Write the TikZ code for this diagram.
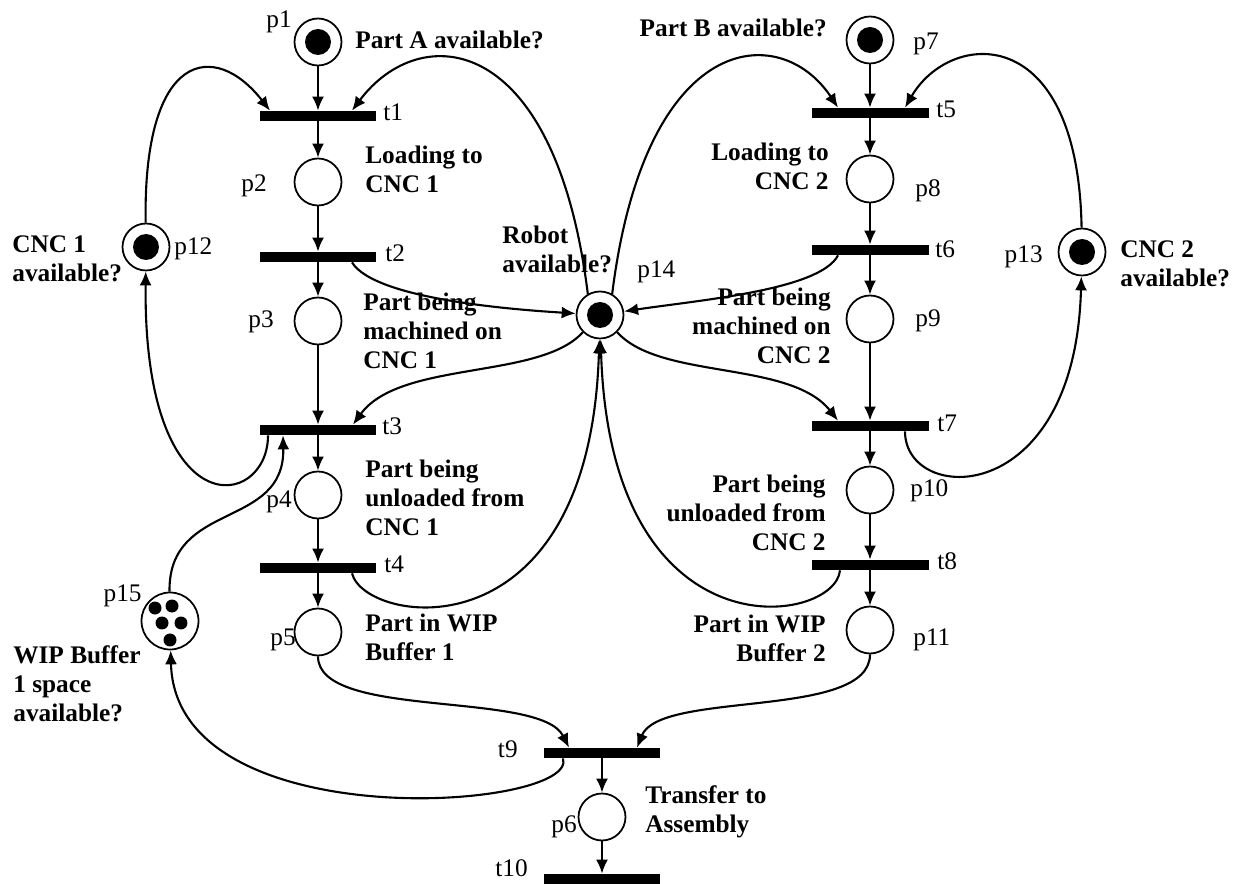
\documentclass[tikz,border=0pt]{standalone}
\usepackage{fontspec}
\setmainfont{Liberation Serif}
\usetikzlibrary{arrows.meta}

\newcommand\lblsize{\fontsize{14.4}{16.5}\selectfont}
\newcommand\txtsize{\fontsize{14.4}{16.5}\selectfont\bfseries}

\tikzset{
	place/.style={circle, draw, line width=1pt, minimum size=0.94cm, inner sep=0pt},
	marked/.style={place, path picture={\fill (path picture bounding box.center) circle (0.26cm);}},
	trans/.style={fill, minimum width=2.34cm, minimum height=0.2cm, inner sep=0pt},
	lbl/.style={font=\lblsize, inner sep=0pt},
	txt/.style={font=\txtsize, inner sep=0pt},
	flow/.style={->, line width=1.2pt},
}

\begin{document}
\begin{tikzpicture}[x=0.02cm, y=-0.02cm, >={Latex[length=2.8mm,width=2.4mm]}]
	\useasboundingbox (0,0) rectangle (1247,884);
	% places, left line (part A)
	\node[marked] (p1) at (318,42) {};
	\node[place] (p2) at (318,182) {};
	\node[place] (p3) at (318,321) {};
	\node[place] (p4) at (318,495) {};
	\node[place] (p5) at (318,632) {};
	% places, right line (part B)
	\node[marked] (p7) at (870,40) {};
	\node[place] (p8) at (870,179) {};
	\node[place] (p9) at (870,319) {};
	\node[place] (p10) at (870,490) {};
	\node[place] (p11) at (870,630) {};
	% resources
	\node[marked] (p12) at (146,247) {};
	\node[marked] (p13) at (1082,252) {};
	\node[marked] (p14) at (600,315) {};
	\node[place, minimum size=1.14cm, path picture={
		\foreach \dx/\dy in {-0.3/0.26, 0.04/0.3, -0.16/-0.04, 0.22/-0.04, 0/-0.38}
			\fill ([shift={(\dx cm,\dy cm)}]path picture bounding box.center) circle (0.13cm);
	}] (p15) at (170,621) {};
	\node[place] (p6) at (602,817) {};
	% transitions
	\node[trans] (t1) at (318,116) {};
	\node[trans] (t2) at (318,257) {};
	\node[trans] (t3) at (318,430) {};
	\node[trans] (t4) at (318,568) {};
	\node[trans] (t5) at (870,113) {};
	\node[trans] (t6) at (870,250) {};
	\node[trans] (t7) at (870,426) {};
	\node[trans] (t8) at (870,565) {};
	\node[trans] (t9) at (602,753) {};
	\node[trans] (t10) at (602,879) {};
	% names
	\node[lbl, anchor=base east] (lp1) at (292,28) {p1};
	\node[lbl, anchor=base east] (lp2) at (267,192) {p2};
	\node[lbl, anchor=base east] (lp3) at (274,328) {p3};
	\node[lbl, anchor=base east] (lp4) at (292,508) {p4};
	\node[lbl, anchor=base east] (lp5) at (296,645) {p5};
	\node[lbl, anchor=base east] (lp6) at (577,832) {p6};
	\node[lbl, anchor=base west] (lp7) at (913,50) {p7};
	\node[lbl, anchor=base west] (lp8) at (915,197) {p8};
	\node[lbl, anchor=base west] (lp9) at (915,327) {p9};
	\node[lbl, anchor=base west] (lp10) at (910,497) {p10};
	\node[lbl, anchor=base west] (lp11) at (913,645) {p11};
	\node[lbl, anchor=base west] (lp12) at (174,255) {p12};
	\node[lbl, anchor=base east] (lp13) at (1043,263) {p13};
	\node[lbl, anchor=base west] (lp14) at (637,278) {p14};
	\node[lbl, anchor=base east] (lp15) at (142,602) {p15};
	\node[lbl, anchor=base west] (lt1) at (383,121) {t1};
	\node[lbl, anchor=base west] (lt2) at (385,262) {t2};
	\node[lbl, anchor=base west] (lt3) at (382,435) {t3};
	\node[lbl, anchor=base west] (lt4) at (384,573) {t4};
	\node[lbl, anchor=base west] (lt5) at (936,118) {t5};
	\node[lbl, anchor=base west] (lt6) at (935,258) {t6};
	\node[lbl, anchor=base west] (lt7) at (937,432) {t7};
	\node[lbl, anchor=base west] (lt8) at (937,570) {t8};
	\node[lbl, anchor=base east] (lt9) at (518,757) {t9};
	\node[lbl, anchor=base east] (lt10) at (528,876) {t10};
	% meaning of the places
	\node[txt, anchor=north west] (dp1) at (355,31) {Part A available?};
	\node[txt, anchor=north west, align=left] (dp2) at (365,146) {Loading to\\CNC 1};
	\node[txt, anchor=north west, align=left] (dp3) at (363,293) {Part being\\machined on\\CNC 1};
	\node[txt, anchor=north west, align=left] (dp4) at (365,460) {Part being\\unloaded from\\CNC 1};
	\node[txt, anchor=north west, align=left] (dp5) at (365,614) {Part in WIP\\Buffer 1};
	\node[txt, anchor=north west, align=left] (dp6) at (645,785) {Transfer to\\Assembly};
	\node[txt, anchor=north east] (dp7) at (827,19) {Part B available?};
	\node[txt, anchor=north east, align=right] (dp8) at (829,143) {Loading to\\CNC 2};
	\node[txt, anchor=north east, align=right] (dp9) at (831,288) {Part being\\machined on\\CNC 2};
	\node[txt, anchor=north east, align=right] (dp10) at (826,475) {Part being\\unloaded from\\CNC 2};
	\node[txt, anchor=north east, align=right] (dp11) at (826,615) {Part in WIP\\Buffer 2};
	\node[txt, anchor=north west, align=left] (dp12) at (12,235) {CNC 1\\available?};
	\node[txt, anchor=north west, align=left] (dp13) at (1120,240) {CNC 2\\available?};
	\node[txt, anchor=north west, align=left] (dp14) at (502,226) {Robot\\available?};
	\node[txt, anchor=north west, align=left] (dp15) at (13,645) {WIP Buffer\\1 space\\available?};
	% straight arcs down both lines
	\foreach \a/\b in {p1/t1, t1/p2, p2/t2, t2/p3, p3/t3, t3/p4, p4/t4, t4/p5,
		p7/t5, t5/p8, p8/t6, t6/p9, p9/t7, t7/p10, p10/t8, t8/p11, t9/p6, p6/t10}
		\draw[flow] (\a) -- (\b);
	% CNC 1 and CNC 2
	\draw[flow] (p12) .. controls (143,50) and (215,40) .. ([xshift=-0.96cm]t1.north);
	\draw[flow] ([xshift=-1cm]t3.south) .. controls (268,510) and (143,530) .. (p12);
	\draw[flow] (p13) .. controls (1078,20) and (950,30) .. ([xshift=0.7cm]t5.north);
	\draw[flow] ([xshift=0.7cm]t7.south) .. controls (905,505) and (1075,510) .. (p13);
	% robot
	\draw[flow] (p14.120) .. controls (555,30) and (420,20) .. ([xshift=0.68cm]t1.north);
	\draw[flow] (p14.60) .. controls (645,30) and (780,20) .. ([xshift=-0.64cm]t5.north);
	\draw[flow] ([xshift=0.68cm]t2.south) .. controls (375,300) and (520,310) .. (p14);
	\draw[flow] ([xshift=-0.64cm]t6.south) .. controls (820,290) and (700,300) .. (p14);
	\draw[flow] (p14.225) .. controls (540,380) and (400,360) .. ([xshift=0.7cm]t3.north);
	\draw[flow] (p14.-45) .. controls (660,380) and (790,360) .. ([xshift=-0.64cm]t7.north);
	\draw[flow] ([xshift=0.68cm]t4.south) .. controls (365,625) and (590,660) .. (p14);
	\draw[flow] ([xshift=-0.6cm]t8.south) .. controls (835,625) and (610,660) .. (p14);
	% WIP buffer and transfer
	\draw[flow] (p15) .. controls (168,500) and (285,530) .. ([xshift=-0.7cm]t3.south);
	\draw[flow] (p5) .. controls (318,720) and (540,690) .. ([xshift=-0.66cm]t9.north);
	\draw[flow] (p11) .. controls (870,720) and (660,690) .. ([xshift=0.7cm]t9.north);
	\draw[flow] ([xshift=-0.78cm]t9.south) .. controls (580,810) and (175,840) .. (p15);
\end{tikzpicture}
\end{document}
